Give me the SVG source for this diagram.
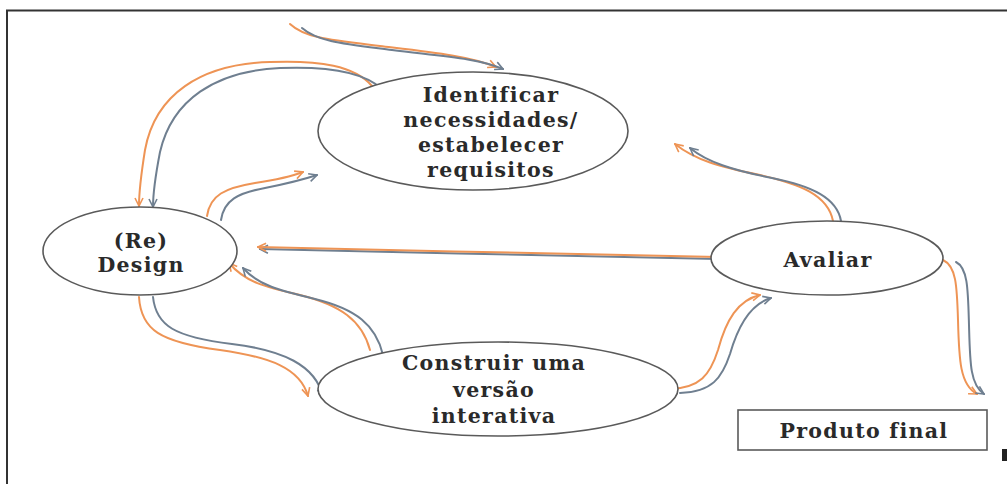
<svg xmlns="http://www.w3.org/2000/svg" width="1007" height="484" viewBox="0 0 1007 484">
  <style>
    .node ellipse, .node rect { fill: #ffffff; stroke: #5a5a5a; stroke-width: 1.6; }
    .label { font-family: "DejaVu Serif", "Liberation Serif", serif; font-weight: bold; font-size: 20.5px; letter-spacing: 1.3px; fill: #2a2a2a; text-anchor: middle; }
    .or { fill: none; stroke: #ee9455; stroke-width: 2; stroke-linecap: round; marker-end: url(#headOr); }
    .gr { fill: none; stroke: #6f7f90; stroke-width: 2; stroke-linecap: round; marker-end: url(#headGr); }
  </style>
  <defs>
    <marker id="headOr" viewBox="0 0 10 10" refX="9" refY="5" markerWidth="5" markerHeight="5" orient="auto" markerUnits="strokeWidth">
      <path d="M1,1 L9,5 L1,9" fill="none" stroke="#ee9455" stroke-width="1.6"/>
    </marker>
    <marker id="headGr" viewBox="0 0 10 10" refX="9" refY="5" markerWidth="5" markerHeight="5" orient="auto" markerUnits="strokeWidth">
      <path d="M1,1 L9,5 L1,9" fill="none" stroke="#6f7f90" stroke-width="1.6"/>
    </marker>
  </defs>

  <rect width="1007" height="484" fill="#ffffff"/>

  <!-- frame -->
  <path d="M7,484 V10.5 H1007" fill="none" stroke="#333333" stroke-width="2"/>
  <rect x="1002" y="449" width="5" height="12" fill="#222222"/>

  <!-- connectors -->
  <g id="connectors">
    <!-- entry into Identificar -->
    <path class="or" d="M290,24 C305,38 330,40 380,46 C430,52 470,56 496,67"/>
    <path class="gr" d="M302,28 C318,42 345,44 392,50 C440,56 478,58 503,69"/>
    <!-- Identificar -> (Re) Design -->
    <path class="or" d="M372,86 C355,66 320,60 270,62 C200,64 155,95 145,150 C141,175 139,190 139,206"/>
    <path class="gr" d="M382,89 C364,72 330,66 280,68 C215,71 172,100 160,152 C155,178 153,192 153,207"/>
    <!-- (Re) Design -> Identificar -->
    <path class="or" d="M207,216 C210,195 225,188 255,183 C275,180 290,177 303,172"/>
    <path class="gr" d="M221,220 C224,200 238,193 265,188 C285,184 302,180 317,175"/>
    <!-- Avaliar -> (Re) Design -->
    <path class="gr" d="M718,259 C600,257 400,252 260,249"/>
    <path class="or" d="M718,257 C600,255 400,250 258,247"/>
    <!-- Construir -> (Re) Design -->
    <path class="or" d="M370,350 C362,320 340,305 300,295 C265,287 245,282 229,263"/>
    <path class="gr" d="M383,355 C376,325 356,309 315,299 C278,290 258,285 243,268"/>
    <!-- (Re) Design -> Construir -->
    <path class="or" d="M139,297 C141,330 160,342 220,350 C270,357 300,368 308,396"/>
    <path class="gr" d="M153,297 C156,326 175,337 232,344 C282,350 316,365 323,397"/>
    <!-- Construir -> Avaliar -->
    <path class="or" d="M670,389 C700,388 710,375 718,350 C726,320 738,300 760,295"/>
    <path class="gr" d="M680,393 C712,392 722,378 730,354 C738,326 750,304 771,298"/>
    <!-- Avaliar -> Identificar -->
    <path class="or" d="M833,221 C828,195 800,184 760,175 C720,167 695,160 675,144"/>
    <path class="gr" d="M841,221 C837,198 812,186 772,178 C732,170 707,162 690,148"/>
    <!-- Avaliar -> Produto final -->
    <path class="or" d="M943,260 C956,266 957,285 958,320 C959,360 960,385 977,394"/>
    <path class="gr" d="M956,262 C968,268 968,290 969,325 C970,362 970,385 984,394"/>
  </g>

  <!-- nodes -->
  <g id="identificar" class="node">
    <ellipse cx="473" cy="131" rx="155" ry="59"/>
    <text class="label" x="491" y="102">Identificar</text>
    <text class="label" x="491" y="127">necessidades/</text>
    <text class="label" x="491" y="152">estabelecer</text>
    <text class="label" x="491" y="177">requisitos</text>
  </g>
  <g id="redesign" class="node">
    <ellipse cx="140" cy="251" rx="97" ry="44"/>
    <text class="label" x="141" y="248">(Re)</text>
    <text class="label" x="141" y="272">Design</text>
  </g>
  <g id="avaliar" class="node">
    <ellipse cx="827" cy="258" rx="116" ry="37"/>
    <text class="label" x="828" y="267">Avaliar</text>
  </g>
  <g id="construir" class="node">
    <ellipse cx="498" cy="389" rx="180" ry="47"/>
    <text class="label" x="494" y="370">Construir uma</text>
    <text class="label" x="494" y="397">versão</text>
    <text class="label" x="494" y="423">interativa</text>
  </g>
  <g id="produto" class="node">
    <rect x="738" y="410" width="249" height="40"/>
    <text class="label" x="864" y="438">Produto final</text>
  </g>
</svg>
